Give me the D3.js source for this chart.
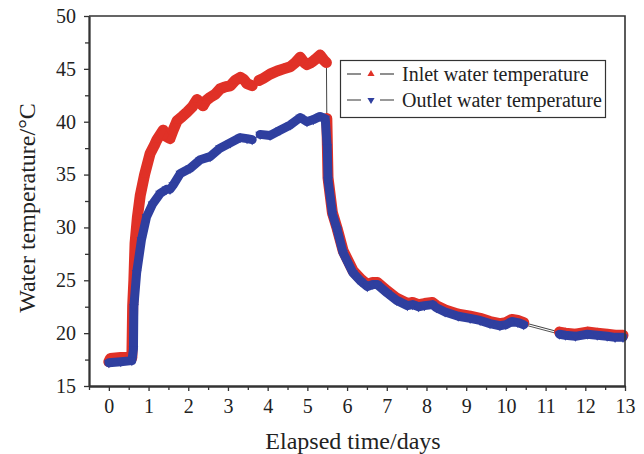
<!DOCTYPE html>
<html>
<head>
<meta charset="utf-8">
<script src="https://cdn.jsdelivr.net/npm/d3@7"></script>
<style>
  body { margin: 0; background: #fff; }
  svg { display: block; font-family: "Liberation Serif", "DejaVu Serif", serif; }
</style>
</head>
<body>
<svg></svg>
<script>
// inlet water temperature (days, deg C)
var inletDays = [0.00, 0.04, 0.30, 0.58, 0.60, 0.63, 0.66, 0.72, 0.79, 0.90, 1.04, 1.15, 1.21, 1.37, 1.45, 1.54, 1.62, 1.72, 1.85, 1.97,
                 2.10, 2.22, 2.30, 2.37, 2.45, 2.55, 2.68, 2.80, 2.93, 3.06, 3.18, 3.31, 3.40, 3.48, 3.61,
                 3.78, 3.89, 4.06, 4.24, 4.40, 4.57, 4.70, 4.82, 4.92, 4.99, 5.10, 5.20, 5.32, 5.42, 5.48,
                 5.49, 5.52, 5.63, 5.75, 5.90, 6.15, 6.35, 6.51, 6.65, 6.76, 7.01, 7.25, 7.52, 7.65, 7.80, 7.95,
                 8.15, 8.25, 8.47, 8.80, 9.10, 9.35, 9.60, 9.85, 10.00, 10.15, 10.30, 10.45,
                 11.35, 11.50, 11.75, 12.05, 12.30, 12.55, 12.75, 12.95];
var inletTemp = [17.3, 17.6, 17.7, 17.7, 22.6, 25.0, 28.5, 31.0, 33.0, 35.0, 37.0, 37.8, 38.3, 39.2, 38.6, 38.4, 39.2, 40.1, 40.5, 40.9,
                 41.4, 42.1, 41.8, 41.5, 42.0, 42.3, 42.6, 43.1, 43.3, 43.4, 43.9, 44.2, 44.0, 43.6, 43.4,
                 43.9, 44.1, 44.5, 44.8, 45.0, 45.2, 45.6, 46.1, 45.6, 45.4, 45.6, 45.9, 46.3, 45.8, 45.6,
                 40.3, 34.7, 31.4, 29.9, 27.8, 25.9, 25.1, 24.6, 24.8, 24.8, 24.0, 23.3, 22.8, 22.9, 22.7, 22.8,
                 22.9, 22.6, 22.2, 21.8, 21.6, 21.4, 21.1, 20.9, 21.0, 21.3, 21.2, 21.0,
                 20.1, 20.0, 19.9, 20.1, 20.0, 19.9, 19.8, 19.8];
var inletBreaks = [3.61, 5.48, 10.45];

// outlet water temperature (days, deg C)
var outletDays = [0.00, 0.30, 0.58, 0.62, 0.63, 0.70, 0.82, 0.95, 1.10, 1.29, 1.45, 1.54, 1.62, 1.80, 2.05, 2.30, 2.55, 2.80, 3.06, 3.31, 3.48, 3.61,
                  3.81, 4.06, 4.31, 4.57, 4.82, 4.99, 5.15, 5.32, 5.45, 5.50, 5.52, 5.63, 5.75, 5.90, 6.15, 6.35, 6.51, 6.65, 6.76,
                  7.01, 7.25, 7.52, 7.65, 7.80, 7.95, 8.15, 8.25, 8.47, 8.80, 9.10, 9.35, 9.60, 9.85, 10.00, 10.15, 10.30, 10.45,
                  11.35, 11.50, 11.75, 12.05, 12.30, 12.55, 12.75, 12.95];
var outletTemp = [17.2, 17.3, 17.4, 18.5, 22.5, 25.7, 28.8, 31.0, 32.2, 33.2, 33.6, 33.6, 34.0, 35.1, 35.6, 36.4, 36.7, 37.5, 38.0, 38.5, 38.4, 38.3,
                  38.8, 38.7, 39.2, 39.7, 40.4, 40.0, 40.2, 40.5, 40.3, 37.6, 34.5, 31.3, 29.8, 27.6, 25.7, 24.9, 24.4, 24.6, 24.6,
                  23.8, 23.1, 22.6, 22.7, 22.5, 22.6, 22.7, 22.4, 22.0, 21.6, 21.4, 21.2, 20.9, 20.7, 20.8, 21.1, 21.0, 20.8,
                  19.9, 19.8, 19.7, 19.9, 19.8, 19.7, 19.6, 19.6];
var outletBreaks = [3.61, 10.45];

var xTicks = [0, 1, 2, 3, 4, 5, 6, 7, 8, 9, 10, 11, 12, 13];
var xMinor = d3.range(-0.5, 13, 1);
var yTicks = [15, 20, 25, 30, 35, 40, 45, 50];
var yMinor = [17.5, 22.5, 27.5, 32.5, 37.5, 42.5, 47.5];
var seriesNames = ["Inlet water temperature", "Outlet water temperature"];

const width = 644, height = 454,
      margin = { top: 16, right: 19, bottom: 68, left: 89 };

const red = "#e03127", blue = "#2f3f9f", axisColor = "#333";

const x = d3.scaleLinear()
      .domain([-0.5, 13])
      .range([margin.left, width - margin.right]);

const y = d3.scaleLinear()
      .domain([15, 50])
      .range([height - margin.bottom, margin.top]);

const svg = d3.select("svg")
      .attr("width", width)
      .attr("height", height)
      .attr("viewBox", [0, 0, width, height]);

function toPoints(days, temps) {
    return days.map((d, i) => ({ day: d, temp: temps[i] }));
}

// split points into runs wherever a break day is crossed
function segments(points, breaks) {
    var runs = [[]];
    points.forEach((p, i) => {
        if (i > 0 && breaks.indexOf(points[i - 1].day) >= 0) runs.push([]);
        runs[runs.length - 1].push(p);
    });
    return runs;
}

const line = d3.line()
      .x(d => x(d.day))
      .y(d => y(d.temp));

const series = [
    { pts: toPoints(inletDays, inletTemp), breaks: inletBreaks, color: red, rot: 0, band: 11, thin: "#444" },
    { pts: toPoints(outletDays, outletTemp), breaks: outletBreaks, color: blue, rot: 180, band: 9, thin: "#555" }
];

// thin connecting lines
series.forEach(s => {
    svg.append("path")
        .attr("fill", "none")
        .attr("stroke", s.thin)
        .attr("stroke-width", 1)
        .attr("d", line(s.pts));
});

// dense marker bands
series.forEach(s => {
    segments(s.pts, s.breaks).forEach(run => {
        svg.append("path")
            .attr("fill", "none")
            .attr("stroke", s.color)
            .attr("stroke-width", s.band)
            .attr("stroke-linejoin", "round")
            .attr("stroke-linecap", "round")
            .attr("d", line(run));
    });
    svg.append("g")
        .selectAll("path")
        .data(s.pts)
        .join("path")
        .attr("transform", d => `translate(${x(d.day)},${y(d.temp)}) rotate(${s.rot})`)
        .attr("d", d3.symbol(d3.symbolTriangle, 40))
        .attr("fill", s.color);
});

// frame
svg.append("path")
    .attr("fill", "none")
    .attr("stroke", axisColor)
    .attr("stroke-width", 1.6)
    .attr("d", `M${x(-0.5)},${y(50)}H${x(13)}V${y(15)}`);

function styleAxis(g) {
    g.select(".domain").attr("stroke", axisColor).attr("stroke-width", 1.8);
    g.selectAll(".tick line").attr("stroke", axisColor).attr("stroke-width", 1.3);
    g.selectAll(".tick text").attr("fill", "#222").attr("font-size", 20)
        .attr("font-family", "Liberation Serif, serif");
}

svg.append("g")
    .attr("transform", `translate(0,${y(15)})`)
    .call(d3.axisBottom(x).tickValues(xMinor).tickFormat("").tickSize(4).tickSizeOuter(0))
    .call(styleAxis);

svg.append("g")
    .attr("transform", `translate(0,${y(15)})`)
    .call(d3.axisBottom(x).tickValues(xTicks).tickSize(5).tickPadding(8).tickSizeOuter(0))
    .call(styleAxis);

svg.append("g")
    .attr("transform", `translate(${x(-0.5)},0)`)
    .call(d3.axisLeft(y).tickValues(yMinor).tickFormat("").tickSize(4).tickSizeOuter(0))
    .call(styleAxis);

svg.append("g")
    .attr("transform", `translate(${x(-0.5)},0)`)
    .call(d3.axisLeft(y).tickValues(yTicks).tickSize(5).tickPadding(8).tickSizeOuter(0))
    .call(styleAxis);

// axis titles
svg.append("text")
    .attr("x", 353)
    .attr("y", 449)
    .attr("text-anchor", "middle")
    .attr("font-size", 24)
    .attr("fill", "#222")
    .text("Elapsed time/days");

svg.append("text")
    .attr("transform", `translate(35,${(y(15) + y(50)) / 2 + 7}) rotate(-90)`)
    .attr("text-anchor", "middle")
    .attr("font-size", 24)
    .attr("fill", "#222")
    .text("Water temperature/\u00B0C");

// legend
const legend = svg.append("g");
legend.append("rect")
    .attr("x", 340.5).attr("y", 60.5)
    .attr("width", 265).attr("height", 57)
    .attr("fill", "#fff")
    .attr("stroke", axisColor)
    .attr("stroke-width", 1.2);

series.forEach((s, i) => {
    const cy = 74 + i * 26;
    const g = legend.append("g").attr("transform", `translate(0,${cy})`);
    g.append("line").attr("x1", 347).attr("x2", 361).attr("y1", 0).attr("y2", 0)
        .attr("stroke", s.thin).attr("stroke-width", 1.2);
    g.append("line").attr("x1", 380).attr("x2", 394).attr("y1", 0).attr("y2", 0)
        .attr("stroke", s.thin).attr("stroke-width", 1.2);
    g.append("path")
        .attr("transform", `translate(371,0) rotate(${s.rot})`)
        .attr("d", d3.symbol(d3.symbolTriangle, 22))
        .attr("fill", s.color);
    g.append("text")
        .attr("x", 402).attr("y", 7)
        .attr("font-size", 20)
        .attr("fill", "#222")
        .text(seriesNames[i]);
});
</script>
</body>
</html>
